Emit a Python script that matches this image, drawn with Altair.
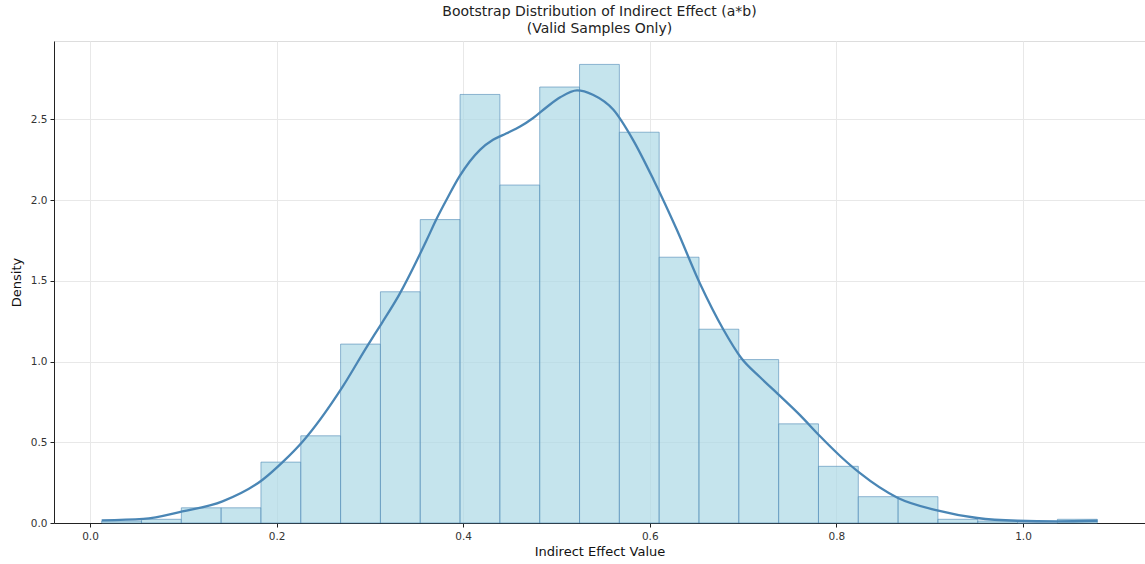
import altair as alt
import numpy as np
import pandas as pd

# Histogram (density) — 25 equal bins spanning the data range
data_min = 0.0125
data_max = 1.0796
n_bins = 25
densities = [0.012, 0.023, 0.094, 0.094, 0.377, 0.54, 1.108, 1.432, 1.879, 2.654,
             2.093, 2.70, 2.84, 2.42, 1.646, 1.20, 1.012, 0.614, 0.351, 0.163,
             0.163, 0.023, 0.012, 0.0, 0.023]

# KDE curve
kde_x = [0.0125, 0.057, 0.099, 0.142, 0.185, 0.207, 0.228, 0.271, 0.297, 0.313,
         0.331, 0.361, 0.371, 0.384, 0.396, 0.407, 0.418, 0.432, 0.446, 0.461,
         0.475, 0.490, 0.504, 0.522, 0.539, 0.561, 0.582, 0.604, 0.629, 0.654,
         0.679, 0.698, 0.718, 0.739, 0.761, 0.782, 0.804, 0.825, 0.866, 0.908,
         0.951, 0.994, 1.036, 1.080]
kde_y = [0.016, 0.025, 0.072, 0.134, 0.268, 0.38, 0.505, 0.846, 1.094, 1.24,
         1.41, 1.754, 1.878, 2.022, 2.146, 2.239, 2.311, 2.373, 2.412, 2.455,
         2.508, 2.578, 2.636, 2.679, 2.652, 2.559, 2.373, 2.126, 1.816, 1.48,
         1.197, 1.022, 0.904, 0.790, 0.668, 0.540, 0.415, 0.31, 0.155, 0.078,
         0.031, 0.014, 0.010, 0.014]

x_ticks = [0.0, 0.2, 0.4, 0.6, 0.8, 1.0]
y_ticks = [0.0, 0.5, 1.0, 1.5, 2.0, 2.5]

edges = np.linspace(data_min, data_max, n_bins + 1)
hist_df = pd.DataFrame({"start": edges[:-1], "end": edges[1:], "density": densities})
kde_df = pd.DataFrame({"x": kde_x, "y": kde_y})

FONT = "DejaVu Sans"
x_scale = alt.Scale(domain=[-0.0386, 1.1308], nice=False, zero=False)
y_scale = alt.Scale(domain=[0, 2.985], nice=False)

x_axis = alt.Axis(values=x_ticks, format=".1f", title="Indirect Effect Value",
                  labelFontSize=10.5, titleFontSize=13, titleFontWeight="normal",
                  labelColor="#333333", titleColor="#111111", tickColor="#222222",
                  domainColor="#222222", tickSize=4, labelPadding=4, titlePadding=4,
                  gridColor="#e8e8e8", grid=True, labelFont=FONT, titleFont=FONT)
y_axis = alt.Axis(values=y_ticks, format=".1f", title="Density",
                  labelFontSize=10.5, titleFontSize=13, titleFontWeight="normal",
                  labelColor="#333333", titleColor="#111111", tickColor="#222222",
                  domainColor="#222222", tickSize=4, labelPadding=3, titlePadding=7,
                  gridColor="#e8e8e8", grid=True, labelFont=FONT, titleFont=FONT)

bars = alt.Chart(hist_df).mark_rect(
    fill="#add8e6", fillOpacity=0.7, stroke="#4f89b5", strokeOpacity=0.6, strokeWidth=1
).encode(
    x=alt.X("start:Q", scale=x_scale, axis=x_axis),
    x2="end:Q",
    y=alt.Y("density:Q", scale=y_scale, axis=y_axis),
    y2=alt.datum(0),
)

line = alt.Chart(kde_df).mark_line(
    color="#4a86b5", strokeWidth=2.3, interpolate="monotone"
).encode(
    x=alt.X("x:Q", scale=x_scale),
    y=alt.Y("y:Q", scale=y_scale),
)

chart = alt.layer(bars, line).properties(
    width=1091,
    height=482,
    title=alt.TitleParams(
        text=["Bootstrap Distribution of Indirect Effect (a*b)", "(Valid Samples Only)"],
        fontSize=14, font=FONT, fontWeight="normal", color="#222222",
        anchor="middle", lineHeight=17, offset=5,
    ),
    autosize=alt.AutoSizeParams(type="none"),
    padding={"left": 54, "top": 41, "right": 0, "bottom": 41},
).configure_view(
    stroke="#222222", strokeWidth=1
).configure(background="white")

chart.save("out.html", embed_options={"renderer": "svg", "actions": False})
